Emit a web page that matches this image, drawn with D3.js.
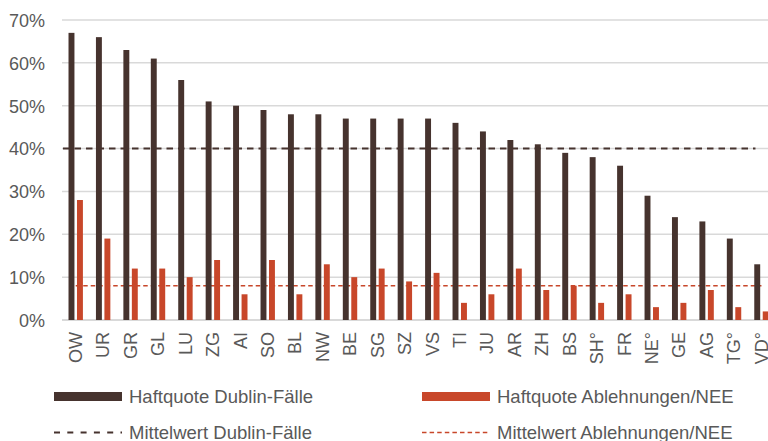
<!DOCTYPE html>
<html>
<head>
<meta charset="utf-8">
<script src="https://cdn.jsdelivr.net/npm/d3@7"></script>
<style>
  body { margin: 0; background: #fff; }
  text { font-family: "Liberation Sans", Arial, sans-serif; fill: #595959; }
</style>
</head>
<body>
<div id="chart"></div>
<script>
var WIDTH = 768
var HEIGHT = 441

var cantons = ["OW","UR","GR","GL","LU","ZG","AI","SO","BL","NW","BE","SG","SZ","VS","TI","JU","AR","ZH","BS","SH°","FR","NE°","GE","AG","TG°","VD°"]
var dublin = [67,66,63,61,56,51,50,49,48,48,47,47,47,47,46,44,42,41,39,38,36,29,24,23,19,13]
var ablehnung = [28,19,12,12,10,14,6,14,6,13,10,12,9,11,4,6,12,7,8,4,6,3,4,7,3,2]
var meanDublin = 40
var meanAblehnung = 8
var yTicks = [0,10,20,30,40,50,60,70]
var seriesNames = ["Haftquote Dublin-Fälle","Haftquote Ablehnungen/NEE"]
var meanNames = ["Mittelwert Dublin-Fälle","Mittelwert Ablehnungen/NEE"]

var dark = "#46332e"
var red = "#c8472a"

var svg = d3.select("#chart").append("svg")
  .attr("width", WIDTH)
  .attr("height", HEIGHT)

var mLeft = 62, mTop = 20, mBottom = 320
var step = 27.43

var x = d3.scaleBand()
  .domain(cantons)
  .range([mLeft, mLeft + cantons.length * step])
  .padding(0)

var xs = d3.scaleBand()
  .domain(["d","r"])
  .range([-7.2, 7.2])
  .paddingInner(0.3)

var y = d3.scaleLinear()
  .domain([0, 70])
  .range([mBottom, mTop])

// gridlines
svg.append("g")
  .selectAll("line")
  .data(yTicks)
  .enter()
  .append("line")
  .attr("x1", mLeft)
  .attr("x2", WIDTH)
  .attr("y1", function(d){ return y(d) })
  .attr("y2", function(d){ return y(d) })
  .attr("stroke", "#d9d9d9")
  .attr("stroke-width", function(d){ return d == 0 ? 2 : 1.5 })

// y axis labels
var yAxis = d3.axisLeft(y).tickValues(yTicks).tickFormat(function(d){ return d + "%" }).tickSize(0).tickPadding(17)
var ya = svg.append("g").attr("transform", "translate(" + mLeft + ",0)").call(yAxis)
ya.select(".domain").remove()
ya.selectAll("text").style("font-size", "18px").attr("fill", "#595959").style("font-family", "Liberation Sans, Arial, sans-serif").attr("dy", "0.35em")

var c0 = x(cantons[0]) + x.bandwidth() / 2
var cN = x(cantons[cantons.length - 1]) + x.bandwidth() / 2

// mean lines (behind bars)
svg.append("line")
  .attr("x1", mLeft + 1).attr("x2", cN - 6)
  .attr("y1", y(meanDublin)).attr("y2", y(meanDublin))
  .attr("stroke", dark).attr("stroke-width", 2)
  .attr("stroke-dasharray", "6.5,5")

svg.append("line")
  .attr("x1", c0).attr("x2", cN)
  .attr("y1", y(meanAblehnung)).attr("y2", y(meanAblehnung))
  .attr("stroke", red).attr("stroke-width", 1.6)
  .attr("stroke-dasharray", "4.5,3")

// bars
var groups = svg.selectAll(".grp")
  .data(cantons)
  .enter()
  .append("g")
  .attr("class", "grp")
  .attr("transform", function(d){ return "translate(" + (x(d) + x.bandwidth() / 2) + ",0)" })

groups.append("rect")
  .attr("x", xs("d"))
  .attr("width", xs.bandwidth())
  .attr("y", function(d,i){ return y(dublin[i]) })
  .attr("height", function(d,i){ return y(0) - y(dublin[i]) })
  .attr("fill", dark)

groups.append("rect")
  .attr("x", xs("r"))
  .attr("width", xs.bandwidth())
  .attr("y", function(d,i){ return y(ablehnung[i]) })
  .attr("height", function(d,i){ return y(0) - y(ablehnung[i]) })
  .attr("fill", red)

// x labels
groups.append("text")
  .attr("transform", "translate(0," + (mBottom + 12) + ") rotate(-90)")
  .attr("text-anchor", "end")
  .attr("dy", "0.35em")
  .style("font-size", "18px")
  .text(function(d){ return d })

// legend
var legend = svg.append("g")
var lx = [54, 422]
legend.selectAll(".sw")
  .data(seriesNames)
  .enter()
  .append("rect")
  .attr("x", function(d,i){ return lx[i] })
  .attr("y", 392)
  .attr("width", 68)
  .attr("height", 9)
  .attr("fill", function(d,i){ return i == 0 ? dark : red })

legend.selectAll(".ml")
  .data(meanNames)
  .enter()
  .append("line")
  .attr("x1", function(d,i){ return lx[i] })
  .attr("x2", function(d,i){ return lx[i] + 68 })
  .attr("y1", 432.5).attr("y2", 432.5)
  .attr("stroke", function(d,i){ return i == 0 ? dark : red })
  .attr("stroke-width", function(d,i){ return i == 0 ? 2 : 1.6 })
  .attr("stroke-dasharray", function(d,i){ return i == 0 ? "6,7.3" : "4.5,3.1" })

legend.selectAll(".lt1")
  .data(seriesNames)
  .enter()
  .append("text")
  .attr("x", function(d,i){ return lx[i] + 75 })
  .attr("y", 403)
  .style("font-size", "18.5px")
  .text(function(d){ return d })

legend.selectAll(".lt2")
  .data(meanNames)
  .enter()
  .append("text")
  .attr("x", function(d,i){ return lx[i] + 75 })
  .attr("y", 438.5)
  .style("font-size", "18.5px")
  .text(function(d){ return d })
</script>
</body>
</html>
